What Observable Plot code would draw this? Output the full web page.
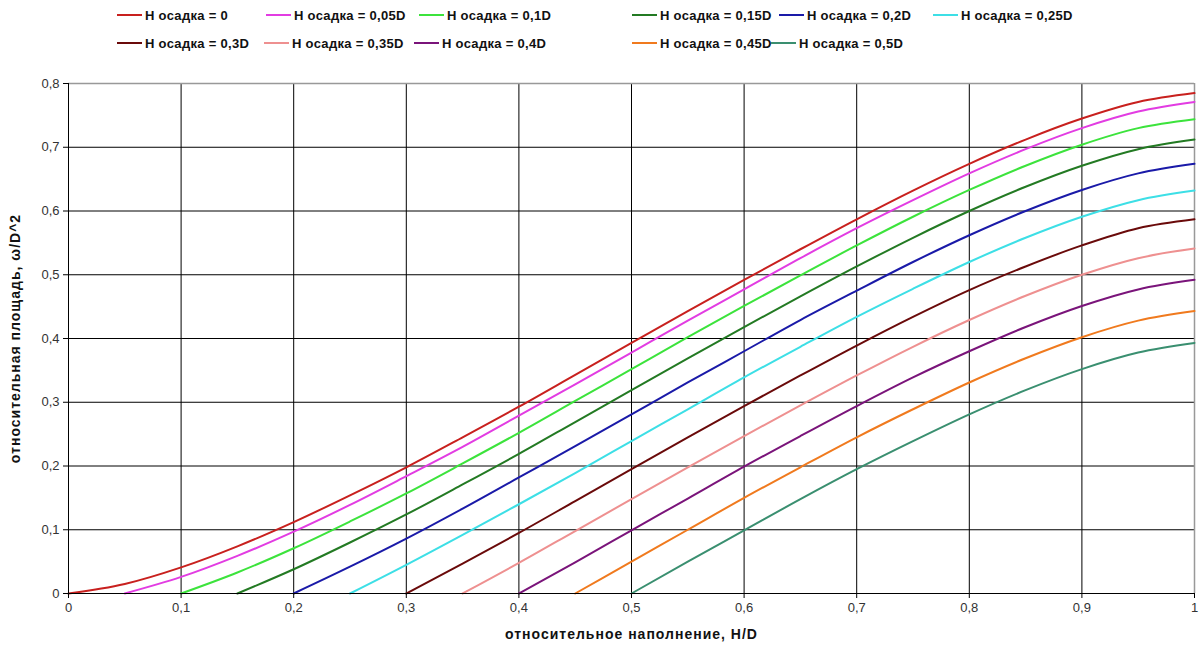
<!DOCTYPE html>
<html><head><meta charset="utf-8">
<script src="https://cdn.jsdelivr.net/npm/d3@7"></script>
<script src="https://cdn.jsdelivr.net/npm/@observablehq/plot@0.6"></script>
<style>
body{margin:0;background:#fff;font-family:"Liberation Sans",Arial,sans-serif;}
#wrap{position:relative;width:1203px;height:653px;overflow:hidden;}
#legend{position:absolute;left:0;top:0;width:1203px;height:60px;}
.item{position:absolute;display:flex;align-items:center;height:16px;font-weight:bold;font-size:13px;letter-spacing:0.3px;color:#111;white-space:nowrap;}
.sw{width:25px;height:2px;margin-right:3px;}
#chart{position:absolute;left:0;top:60px;}
#chart svg text.ttl{letter-spacing:1px;}
</style></head><body>
<div id="wrap"><div id="legend"></div><div id="chart"></div></div>
<script>
// relative filling H/D (x grid)
const H = [0,0.05,0.1,0.15,0.2,0.25,0.3,0.35,0.4,0.45,0.5,0.55,0.6,0.65,0.7,0.75,0.8,0.85,0.9,0.95,1];
const xTicks = [0,0.1,0.2,0.3,0.4,0.5,0.6,0.7,0.8,0.9,1];
const yTicks = [0,0.1,0.2,0.3,0.4,0.5,0.6,0.7,0.8];
const labels = ["H осадка = 0","H осадка = 0,05D","H осадка = 0,1D","H осадка = 0,15D","H осадка = 0,2D","H осадка = 0,25D","H осадка = 0,3D","H осадка = 0,35D","H осадка = 0,4D","H осадка = 0,45D","H осадка = 0,5D"];
const colors = ["#c8201e","#e23ce2","#3ce33c","#237a23","#1a1aa8","#3ddfe6","#6a0a0a","#ee9090","#7a147a","#f07a1e","#3a8f70"];
// series values (relative area ω/D^2), each starting at its sediment height
const s00 = [0,0.015,0.041,0.074,0.112,0.154,0.198,0.245,0.293,0.343,0.393,0.443,0.492,0.540,0.587,0.632,0.674,0.712,0.745,0.771,0.785];
const s05 = [0,0.026,0.059,0.097,0.139,0.184,0.230,0.279,0.328,0.378,0.428,0.477,0.526,0.573,0.617,0.659,0.697,0.730,0.756,0.771];
const s10 = [0,0.033,0.071,0.113,0.157,0.204,0.252,0.302,0.352,0.402,0.451,0.499,0.546,0.591,0.633,0.671,0.704,0.730,0.744];
const s15 = [0,0.038,0.080,0.124,0.171,0.219,0.269,0.319,0.369,0.418,0.466,0.513,0.558,0.600,0.638,0.671,0.697,0.712];
const s20 = [0,0.042,0.086,0.133,0.182,0.231,0.281,0.331,0.380,0.429,0.475,0.520,0.562,0.600,0.633,0.659,0.674];
const s25 = [0,0.045,0.092,0.140,0.189,0.239,0.289,0.339,0.387,0.434,0.478,0.520,0.558,0.591,0.617,0.632];
const s30 = [0,0.047,0.095,0.145,0.195,0.245,0.294,0.342,0.389,0.434,0.476,0.513,0.546,0.573,0.587];
const s35 = [0,0.048,0.098,0.148,0.198,0.247,0.295,0.342,0.387,0.429,0.467,0.500,0.526,0.541];
const s40 = [0,0.049,0.099,0.149,0.199,0.247,0.294,0.339,0.380,0.418,0.451,0.477,0.492];
const s45 = [0,0.050,0.100,0.150,0.198,0.245,0.289,0.331,0.369,0.402,0.428,0.443];
const s50 = [0,0.050,0.099,0.148,0.195,0.239,0.281,0.319,0.352,0.378,0.393];
const series = [s00,s05,s10,s15,s20,s25,s30,s35,s40,s45,s50];

const rows = [];
series.forEach((v, k) => {
  const start = H.length - v.length;
  v.forEach((y, i) => rows.push({x: H[start + i], y, s: labels[k]}));
});

// legend
const legendPos = [[117,7],[266,7],[419,7],[632,7],[779,7],[933,7],[117,35],[264,35],[414,35],[632,35],[771,35]];
const leg = document.getElementById("legend");
labels.forEach((l, k) => {
  const d = document.createElement("div");
  d.className = "item";
  d.style.left = legendPos[k][0] + "px";
  d.style.top = legendPos[k][1] + "px";
  d.innerHTML = `<span class="sw" style="background:${colors[k]}"></span><span>${l}</span>`;
  leg.appendChild(d);
});

const fmt = d => String(d).replace(".", ",");
const chart = Plot.plot({
  width: 1203, height: 593,
  marginLeft: 68, marginRight: 9, marginTop: 23, marginBottom: 60,
  style: {fontFamily: "Liberation Sans, Arial, sans-serif", fontSize: "13px", background: "#fff"},
  x: {domain: [0, 1]},
  y: {domain: [0, 0.8]},
  color: {domain: labels, range: colors},
  marks: [
    Plot.gridX(xTicks, {stroke: "#000", strokeOpacity: 1}),
    Plot.gridY(yTicks, {stroke: "#000", strokeOpacity: 1}),
    Plot.ruleX([1], {stroke: "#999", strokeWidth: 1.5}),
    Plot.ruleY([0.8], {stroke: "#999", strokeWidth: 1.5}),
    Plot.line(rows, {x: "x", y: "y", z: "s", stroke: "s", strokeWidth: 2, curve: "monotone-x"}),
    Plot.ruleX([0], {stroke: "#000"}),
    Plot.ruleY([0], {stroke: "#000"}),
    Plot.axisX(xTicks, {tickFormat: fmt, tickSize: 5, tickPadding: 4, label: null, fill: "#333", fontSize: 13}),
    Plot.axisY(yTicks, {tickFormat: fmt, tickSize: 5, tickPadding: 4, label: null, fill: "#333", fontSize: 13}),
    Plot.text(["относительное наполнение, H/D"], {frameAnchor: "bottom", dy: 41, fontWeight: "bold", fontSize: 14, fill: "#111", textAnchor: "middle", lineAnchor: "middle", className: "ttl"}),
    Plot.text(["относительная площадь, ω/D^2"], {frameAnchor: "left", dx: -53, rotate: -90, fontWeight: "bold", fontSize: 14, fill: "#111", textAnchor: "middle", lineAnchor: "middle", className: "ttl"})
  ]
});
chart.querySelectorAll("g.ttl text, .ttl text").forEach(t => t.setAttribute("letter-spacing", "1"));
document.getElementById("chart").appendChild(chart);
</script>
</body></html>
